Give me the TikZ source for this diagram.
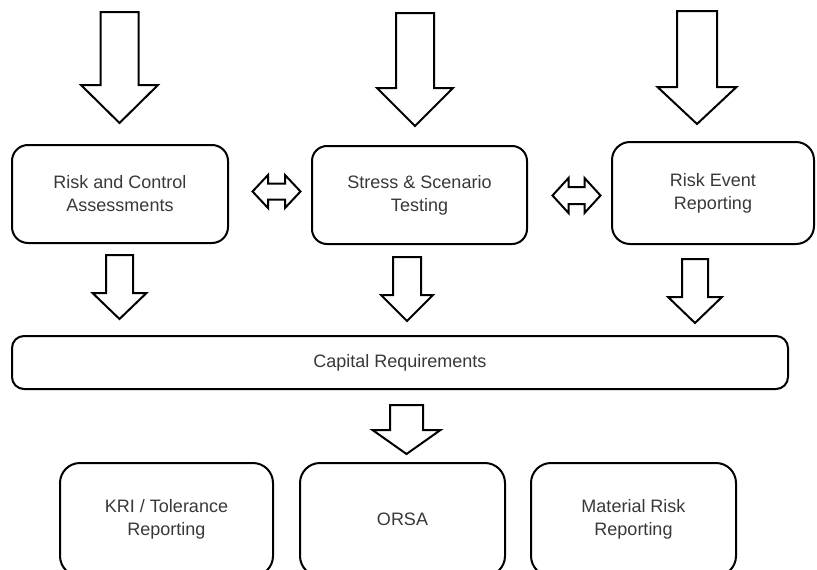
\documentclass[tikz,border=0pt]{standalone}
\usepackage{fontspec}
\setmainfont{Liberation Sans}
\newcommand{\blockdown}[6]{\draw[blockarrow] ({#1-#5},#2) -- ({#1+#5},#2) -- ({#1+#5},#3) -- ({#1+#6},#3) -- (#1,#4) -- ({#1-#6},#3) -- ({#1-#5},#3) -- cycle;}
\newcommand{\blockboth}[6]{\draw[blockarrow] (#1,#3) -- ({#1+#4},{#3-#6}) -- ({#1+#4},{#3-#5}) -- ({#2-#4},{#3-#5}) -- ({#2-#4},{#3-#6}) -- (#2,#3) -- ({#2-#4},{#3+#6}) -- ({#2-#4},{#3+#5}) -- ({#1+#4},{#3+#5}) -- ({#1+#4},{#3+#6}) -- cycle;}

\begin{document}
\begin{tikzpicture}[x=1pt, y=-1pt,
    box/.style={draw, line width=2pt, rounded corners=16pt, align=center, inner sep=0pt,
        text=black!78, font=\fontsize{18}{23}\selectfont},
    blockarrow/.style={draw, line width=2pt, line join=miter, fill=white}]
    \useasboundingbox (0,0) rectangle (817,570);
    \clip (0,0) rectangle (817,570);
    \node[box, minimum width=216pt, minimum height=98pt] (rca) at (120,194) {Risk and Control\\Assessments};
    \node[box, minimum width=215pt, minimum height=98pt, rounded corners=15pt] (sst) at (419.5,195) {Stress \& Scenario\\Testing};
    \node[box, minimum width=202pt, minimum height=102pt, rounded corners=18pt] (rer) at (713,193) {Risk Event\\Reporting};
    \node[box, minimum width=776pt, minimum height=53pt, rounded corners=12pt] (cap) at (400,362.5) {Capital Requirements};
    \node[box, minimum width=213pt, minimum height=113pt, rounded corners=20pt] (kri) at (166.5,519.5) {KRI / Tolerance\\Reporting};
    \node[box, minimum width=205pt, minimum height=113pt, rounded corners=20pt] (orsa) at (402.5,519.5) {ORSA};
    \node[box, minimum width=205pt, minimum height=113pt, rounded corners=20pt] (mrr) at (633.5,519.5) {Material Risk\\Reporting};
    \blockdown{119.5}{12}{85}{123}{19}{38.5}
    \blockdown{415}{13}{88}{126}{19}{38}
    \blockdown{697}{11}{87}{124}{20}{39.5}
    \blockboth{252.5}{300.5}{191.5}{15.5}{8}{16.5}
    \blockboth{552.5}{600.5}{195.5}{16}{8.5}{17.5}
    \blockdown{119.5}{255}{293}{319}{13.5}{27}
    \blockdown{407}{257}{295}{321}{14}{26}
    \blockdown{695}{259}{297}{323}{13}{27}
    \blockdown{406.5}{405}{430}{454}{16.5}{34}
\end{tikzpicture}
\end{document}
